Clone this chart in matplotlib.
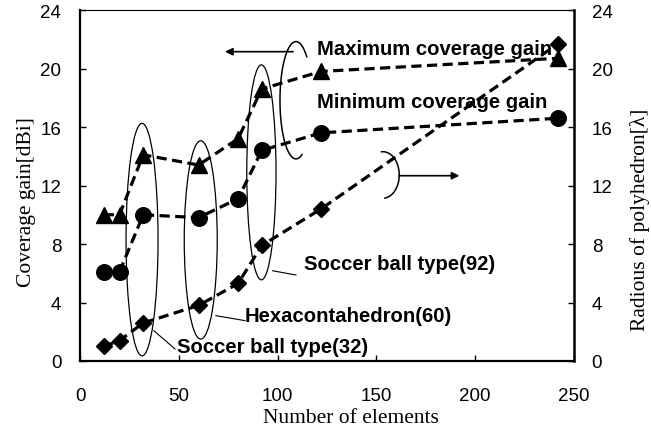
import numpy as np
import matplotlib
matplotlib.use("Agg")
import matplotlib.pyplot as plt
from matplotlib.patches import Ellipse

# Number of array elements for each polyhedron
elements = [12, 20, 32, 60, 80, 92, 122, 242]
# Coverage gain [dBi]
max_gain = [10.0, 10.0, 14.1, 13.4, 15.2, 18.6, 19.8, 20.7]
min_gain = [6.1, 6.1, 10.0, 9.8, 11.1, 14.4, 15.6, 16.6]
# Radius of the polyhedron [lambda]
radius = [1.0, 1.4, 2.6, 3.8, 5.3, 7.9, 10.4, 21.7]

x_ticks = [0, 50, 100, 150, 200, 250]
y_ticks = [0, 4, 8, 12, 16, 20, 24]

SANS = "Liberation Sans"
SERIF = "Liberation Serif"

fig = plt.figure(figsize=(6.51, 4.39), dpi=100)
ax = fig.add_axes([80 / 651, 77 / 439, 494 / 651, 351 / 439])
ax2 = ax.twinx()

line_kw = dict(color="black", lw=2.3, dashes=(3.2, 1.7), clip_on=False)
ax.plot(elements, max_gain, marker="^", ms=11.5, **line_kw)
ax.plot(elements, min_gain, marker="o", ms=11.2, **line_kw)
ax2.plot(elements, radius, marker="D", ms=8.3, **line_kw)

for a in (ax, ax2):
    a.set_xlim(0, 250)
    a.set_ylim(0, 24)
    a.set_yticks(y_ticks)
ax.set_xticks(x_ticks)

ax.tick_params(axis="both", direction="in", length=4, width=1,
               labelsize=13.5, right=False, top=False)
ax.tick_params(axis="x", pad=18.5)
ax.tick_params(axis="y", pad=13.5)
ax2.tick_params(axis="y", direction="in", length=4, width=1,
                labelsize=13.5, pad=12.7)
for lab in ax.get_xticklabels() + ax.get_yticklabels() + ax2.get_yticklabels():
    lab.set_fontfamily(SANS)

# Frame: heavy left/bottom/right, thin top
ax.spines["top"].set_linewidth(0.8)
ax.spines["left"].set_linewidth(1.6)
ax.spines["bottom"].set_linewidth(1.6)
ax.spines["right"].set_visible(False)
for s in ("left", "top", "bottom"):
    ax2.spines[s].set_visible(False)
ax2.spines["right"].set_linewidth(1.8)

ax.set_xlabel("Number of elements", fontfamily=SERIF, fontsize=15.5, va="center")
ax.xaxis.set_label_coords(0.548, -0.1615)
ax.set_ylabel("Coverage gain[dBi]", fontfamily=SERIF, fontsize=15.5, va="center")
ax.yaxis.set_label_coords(-0.109, 0.457)
ax2.set_ylabel("Radious of polyhedron[λ]", fontfamily=SERIF, fontsize=15.5,
               rotation=90, va="center")
ax2.yaxis.set_label_coords(1.1336, 0.4046)

# Ellipses grouping the polyhedron types
for cx, cy, w, h in [(31.4, 8.3, 16.2, 15.9),
                     (61.1, 8.28, 16.7, 13.56),
                     (91.8, 12.9, 14.8, 14.7)]:
    ax2.add_patch(Ellipse((cx, cy), w, h, fill=False, lw=0.9, ec="black"))

# Bracket arcs for the axis indicators
def arc(a, cx, cy, rx, ry, t0, t1):
    t = np.deg2rad(np.linspace(t0, t1, 120))
    a.plot(cx + rx * np.cos(t), cy + ry * np.sin(t), color="black", lw=1.1)

arc(ax2, 109.3, 17.83, 8.1, 4.01, 48, 292)
arc(ax2, 153.3, 12.72, 8.25, 1.59, -83, 95)

arrow_kw = dict(arrowstyle="-|>", color="black", lw=1.2, mutation_scale=11,
                shrinkA=0, shrinkB=0)
ax2.annotate("", xy=(73.4, 21.15), xytext=(107.8, 21.15), arrowprops=arrow_kw)
ax2.annotate("", xy=(192.0, 12.67), xytext=(161.4, 12.67), arrowprops=arrow_kw)

# Leader lines to the type labels
for (x0, y0), (x1, y1) in [((97.5, 6.17), (109.3, 5.88)),
                           ((68.8, 3.10), (83.5, 2.76)),
                           ((37.4, 2.07), (48.1, 0.82))]:
    ax2.plot([x0, x1], [y0, y1], color="black", lw=0.8)

txt_kw = dict(fontfamily=SANS, fontweight="bold", fontsize=14.6, va="baseline",
              ha="left")
ax2.text(119.9, 20.99, "Maximum coverage gain", **txt_kw)
ax2.text(119.9, 17.4, "Minimum coverage gain", **txt_kw)
ax2.text(113.4, 6.29, "Soccer ball type(92)", **txt_kw)
ax2.text(83.5, 2.76, "Hexacontahedron(60)", **txt_kw)
ax2.text(48.9, 0.64, "Soccer ball type(32)", **txt_kw)

fig.savefig("out.png", dpi=100)
